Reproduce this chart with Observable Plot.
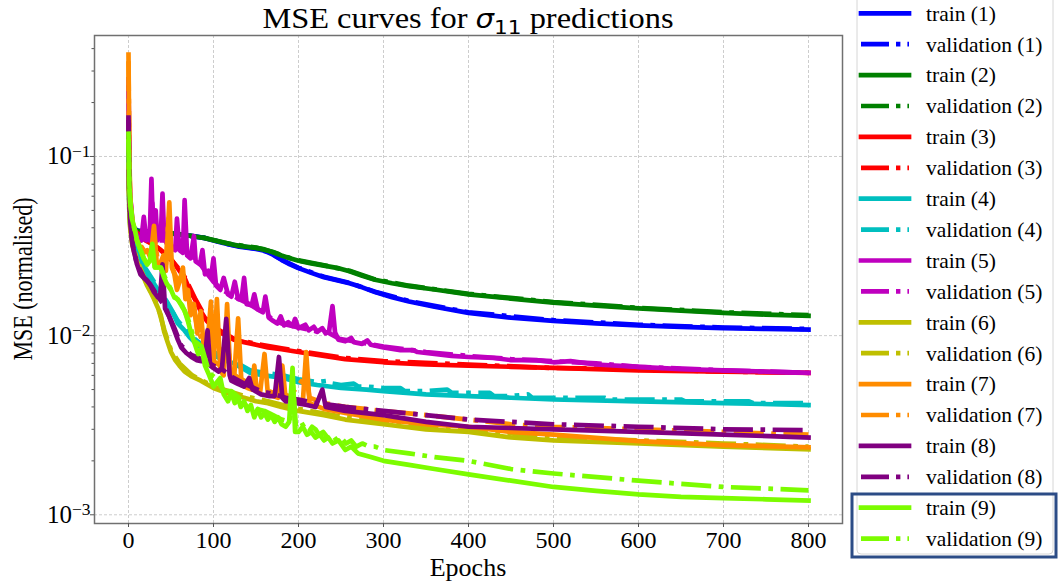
<!DOCTYPE html>
<html>
<head>
<meta charset="utf-8">
<script src="https://cdn.jsdelivr.net/npm/d3@7"></script>
<script src="https://cdn.jsdelivr.net/npm/@observablehq/plot@0.6"></script>
<style>
  html, body { margin: 0; padding: 0; background: #fff; }
  #chart { position: relative; width: 1059px; height: 588px; overflow: hidden; }
</style>
</head>
<body>
<div id="chart"></div>
<script>
// ---- axis ticks ----
const epochTicks = [0, 100, 200, 300, 400, 500, 600, 700, 800];
const mseTicks = [0.001, 0.01, 0.1];
const mseMinorTicks = [0.002, 0.003, 0.004, 0.005, 0.006, 0.007, 0.008, 0.009,
  0.02, 0.03, 0.04, 0.05, 0.06, 0.07, 0.08, 0.09, 0.2, 0.3, 0.4];

// ---- runs ----
const runLabels = ["1", "2", "3", "4", "5", "6", "7", "8", "9"];
const runColors = ["#0000ff", "#008000", "#ff0000", "#00bfbf", "#bf00bf",
  "#bfbf00", "#ff8c00", "#800080", "#7cfc00"];

// ---- MSE per epoch: [epoch, mse] ----
const train1 = [[0,0.16],[1,0.065],[2,0.046],[4,0.041],[8,0.0388],[15,0.038],[30,0.0378],[50,0.0372],[70,0.0362],[90,0.035],[110,0.033],[130,0.0314],[150,0.0305],[160,0.0298],[170,0.0283],[180,0.0265],[190,0.025],[200,0.0238],[215,0.0224],[230,0.0212],[245,0.0204],[260,0.0196],[275,0.0186],[290,0.0175],[310,0.0164],[330,0.0155],[360,0.0145],[400,0.0134],[450,0.0126],[500,0.0121],[550,0.0117],[600,0.0114],[650,0.0112],[700,0.011],[750,0.0109],[800,0.0108]];
const val1 = [[0,0.15],[1,0.063],[2,0.046],[4,0.041],[10,0.0386],[30,0.0379],[60,0.0368],[90,0.0351],[120,0.0322],[150,0.0306],[165,0.0292],[180,0.0266],[200,0.0239],[230,0.0213],[260,0.0197],[290,0.0176],[330,0.0156],[400,0.0135],[500,0.0122],[600,0.0115],[700,0.0111],[800,0.0109]];

const train2 = [[0,0.12],[1,0.062],[2,0.046],[4,0.041],[8,0.0388],[15,0.038],[30,0.0378],[50,0.0372],[70,0.0362],[90,0.035],[110,0.0332],[130,0.0317],[150,0.0309],[160,0.0303],[170,0.0292],[180,0.028],[190,0.027],[200,0.0262],[215,0.0253],[230,0.0246],[245,0.0239],[260,0.0229],[275,0.0216],[290,0.0205],[310,0.0196],[330,0.0189],[360,0.0181],[400,0.017],[450,0.0161],[500,0.0153],[550,0.0147],[600,0.0142],[650,0.0138],[700,0.0134],[750,0.0131],[800,0.0129]];
const val2 = [[0,0.11],[1,0.06],[2,0.046],[4,0.041],[10,0.0387],[30,0.0379],[60,0.0368],[90,0.0351],[120,0.0325],[150,0.031],[170,0.0293],[190,0.0271],[200,0.0263],[230,0.0247],[260,0.023],[290,0.0206],[330,0.019],[400,0.0171],[500,0.0154],[600,0.0143],[700,0.0135],[800,0.013]];

const train3 = [[0,0.1],[1,0.055],[2,0.045],[4,0.04],[8,0.038],[15,0.036],[20,0.034],[25,0.033],[30,0.032],[38,0.03],[45,0.028],[52,0.026],[58,0.0237],[66,0.021],[72,0.018],[78,0.016],[85,0.0137],[92,0.0121],[100,0.0111],[110,0.0103],[124,0.0095],[136,0.0092],[150,0.0089],[164,0.0086],[180,0.0084],[200,0.0081],[230,0.0077],[255,0.0074],[300,0.0071],[350,0.0069],[400,0.0068],[450,0.0067],[500,0.0066],[600,0.0064],[700,0.0063],[800,0.0062]];
const val3 = [[0,0.095],[1,0.054],[2,0.045],[5,0.039],[10,0.037],[20,0.0342],[30,0.0322],[45,0.0282],[58,0.024],[66,0.0213],[78,0.0162],[92,0.0123],[100,0.0112],[124,0.0096],[150,0.009],[180,0.0085],[200,0.0082],[255,0.0075],[300,0.0072],[400,0.0069],[500,0.0066],[600,0.0065],[700,0.0063],[800,0.0062]];

const train4 = [[0,0.1],[1,0.05],[2,0.042],[5,0.036],[10,0.03],[15,0.026],[20,0.023],[25,0.021],[30,0.0195],[38,0.017],[45,0.015],[52,0.0135],[58,0.0117],[65,0.0108],[72,0.0098],[80,0.009],[90,0.0083],[100,0.0078],[112,0.0073],[124,0.007],[136,0.0065],[143,0.0062],[160,0.006],[182,0.0058],[200,0.0055],[222,0.0053],[250,0.0051],[280,0.005],[300,0.0049],[350,0.0047],[400,0.0046],[450,0.0045],[500,0.0044],[600,0.0043],[700,0.0042],[800,0.0041]];
const val4 = [[0,0.098],[1,0.05],[2,0.043],[5,0.037],[10,0.031],[20,0.0237],[30,0.02],[45,0.0155],[58,0.0121],[72,0.0101],[90,0.0086],[100,0.0081],[124,0.0072],[143,0.0064],[160,0.0062],[182,0.006],[200,0.0057],[222,0.0055],[235,0.0056],[240,0.0054],[250,0.0053],[265,0.0054],[270,0.0052],[280,0.0052],[300,0.0051],[320,0.0051],[325,0.0049],[350,0.0049],[375,0.005],[380,0.0048],[400,0.0048],[425,0.0048],[430,0.0046],[450,0.0046],[470,0.0047],[475,0.0045],[500,0.0045],[560,0.0045],[565,0.0044],[600,0.0044],[650,0.0044],[655,0.0043],[700,0.0043],[730,0.0043],[735,0.0042],[800,0.0042]];

const train5 = [[0,0.27],[1,0.08],[2,0.06],[5,0.042],[10,0.036],[15,0.034],[18,0.046],[21,0.034],[25,0.036],[27,0.075],[29,0.037],[32,0.05],[34,0.034],[38,0.036],[40,0.062],[42,0.035],[46,0.032],[48,0.041],[50,0.031],[55,0.03],[57,0.045],[60,0.03],[64,0.029],[66,0.057],[69,0.028],[73,0.027],[77,0.036],[79,0.026],[84,0.025],[87,0.03],[90,0.022],[94,0.023],[97,0.021],[100,0.027],[103,0.019],[108,0.018],[112,0.021],[117,0.017],[121,0.0165],[125,0.02],[129,0.016],[133,0.016],[136,0.021],[139,0.015],[145,0.0148],[148,0.017],[152,0.014],[158,0.0135],[161,0.0165],[165,0.0126],[170,0.0121],[175,0.0117],[179,0.0128],[183,0.0114],[188,0.0119],[193,0.0113],[196,0.0124],[200,0.011],[208,0.0115],[212,0.0107],[218,0.0112],[222,0.0105],[228,0.011],[232,0.0103],[236,0.0106],[240,0.0146],[243,0.0104],[247,0.0095],[255,0.0093],[262,0.0097],[265,0.0092],[275,0.009],[281,0.0094],[285,0.0089],[300,0.0086],[320,0.0083],[335,0.0083],[340,0.0081],[360,0.0079],[380,0.0077],[400,0.0076],[430,0.0075],[450,0.0073],[480,0.0073],[500,0.0071],[520,0.0072],[550,0.0069],[600,0.0067],[650,0.0065],[700,0.0064],[750,0.0063],[800,0.0062]];
const val5 = [[0,0.25],[1,0.075],[2,0.058],[5,0.041],[10,0.036],[15,0.034],[22,0.036],[25,0.034],[28,0.055],[31,0.035],[36,0.034],[44,0.034],[52,0.031],[60,0.031],[70,0.028],[80,0.027],[90,0.023],[100,0.02],[110,0.018],[120,0.017],[130,0.016],[140,0.0152],[150,0.0142],[160,0.0135],[170,0.0122],[180,0.0117],[200,0.0111],[220,0.0106],[235,0.0104],[248,0.0096],[270,0.0092],[300,0.0087],[350,0.0081],[400,0.0077],[450,0.0074],[500,0.0072],[550,0.007],[600,0.0067],[700,0.0064],[800,0.0062]];

const train6 = [[0,0.09],[1,0.05],[2,0.04],[4,0.033],[6,0.03],[10,0.026],[14,0.023],[18,0.021],[22,0.019],[26,0.0175],[30,0.016],[34,0.0145],[38,0.013],[42,0.0105],[46,0.0092],[50,0.0081],[55,0.0073],[60,0.0068],[66,0.0063],[75,0.0059],[85,0.0056],[100,0.0051],[120,0.0047],[136,0.0045],[150,0.0043],[164,0.0042],[180,0.004],[200,0.0038],[230,0.0036],[255,0.0034],[300,0.0032],[350,0.003],[400,0.0029],[450,0.0027],[500,0.0026],[600,0.0025],[700,0.0024],[800,0.00232]];
const val6 = [[0,0.088],[1,0.05],[2,0.041],[5,0.032],[10,0.0265],[18,0.0213],[26,0.0178],[34,0.0148],[42,0.0108],[50,0.0083],[60,0.007],[75,0.006],[100,0.0052],[136,0.0046],[164,0.0043],[200,0.0039],[255,0.0035],[300,0.0033],[400,0.003],[500,0.0027],[600,0.0026],[700,0.0025],[800,0.0024]];

const train7 = [[0,0.37],[1,0.1],[2,0.06],[4,0.045],[7,0.038],[10,0.034],[14,0.031],[18,0.029],[22,0.03],[26,0.027],[30,0.041],[33,0.026],[37,0.025],[41,0.028],[44,0.023],[48,0.0555],[51,0.024],[54,0.022],[57,0.018],[60,0.02],[64,0.024],[67,0.016],[70,0.018],[73,0.013],[77,0.015],[81,0.0103],[85,0.0137],[89,0.0082],[93,0.009],[97,0.0155],[100,0.0066],[104,0.016],[108,0.0064],[112,0.006],[116,0.015],[120,0.0058],[124,0.0056],[129,0.0125],[133,0.0053],[140,0.0051],[145,0.005],[148,0.0068],[151,0.0049],[155,0.0049],[160,0.0079],[164,0.0047],[170,0.0046],[176,0.0045],[181,0.0068],[185,0.0044],[195,0.0043],[205,0.0042],[209,0.0081],[213,0.0042],[230,0.0039],[255,0.0037],[300,0.0034],[350,0.0032],[400,0.0031],[450,0.0029],[500,0.0028],[600,0.00258],[700,0.00245],[800,0.00238]];
const val7 = [[0,0.34],[1,0.09],[2,0.058],[5,0.042],[10,0.034],[18,0.03],[26,0.028],[30,0.036],[34,0.027],[44,0.025],[47,0.045],[50,0.025],[58,0.02],[64,0.022],[68,0.017],[77,0.014],[81,0.011],[89,0.0088],[97,0.012],[100,0.0072],[108,0.0068],[116,0.011],[120,0.0062],[133,0.0057],[150,0.0052],[170,0.0048],[190,0.0046],[209,0.006],[213,0.0045],[230,0.0042],[255,0.004],[300,0.0038],[350,0.0036],[400,0.0034],[450,0.0032],[500,0.0031],[600,0.003],[700,0.0029],[800,0.0028]];

const train8 = [[0,0.165],[1,0.06],[2,0.045],[4,0.034],[6,0.03],[10,0.025],[14,0.022],[18,0.021],[22,0.0203],[26,0.019],[30,0.0175],[34,0.0165],[37,0.016],[40,0.025],[43,0.0142],[48,0.0127],[54,0.0107],[58,0.0095],[62,0.0086],[68,0.008],[74,0.0076],[80,0.0073],[86,0.0072],[90,0.0076],[93,0.0107],[96,0.0068],[100,0.0066],[106,0.0063],[110,0.0066],[115,0.0124],[119,0.006],[121,0.0056],[128,0.0054],[136,0.0052],[142,0.0058],[146,0.005],[156,0.0047],[165,0.0046],[172,0.0046],[177,0.0076],[181,0.0045],[185,0.0043],[192,0.0043],[198,0.0042],[210,0.0041],[220,0.004],[228,0.005],[232,0.004],[255,0.0038],[300,0.0036],[350,0.0033],[400,0.0031],[450,0.00305],[500,0.003],[600,0.0029],[700,0.0028],[800,0.0027]];
const val8 = [[0,0.16],[1,0.06],[2,0.045],[5,0.032],[10,0.025],[18,0.0212],[26,0.0192],[34,0.0167],[43,0.0145],[54,0.011],[62,0.0088],[74,0.0078],[86,0.0074],[100,0.0068],[110,0.0065],[121,0.0059],[136,0.0054],[156,0.0049],[172,0.0047],[185,0.0045],[200,0.0044],[220,0.0042],[240,0.0041],[255,0.004],[300,0.0038],[350,0.0036],[400,0.0034],[450,0.0033],[500,0.0032],[600,0.0031],[700,0.003],[800,0.00297]];

const train9 = [[0,0.134],[1,0.07],[2,0.055],[4,0.045],[7,0.04],[10,0.034],[14,0.03],[18,0.027],[22,0.025],[25,0.026],[28,0.0325],[31,0.024],[35,0.024],[38,0.024],[42,0.021],[45,0.0195],[50,0.018],[54,0.0163],[58,0.016],[63,0.0145],[66,0.0138],[70,0.012],[74,0.0102],[78,0.009],[82,0.0079],[86,0.0085],[90,0.0068],[95,0.006],[100,0.0052],[104,0.0055],[108,0.0058],[112,0.0047],[117,0.0043],[121,0.0048],[125,0.0042],[129,0.0045],[132,0.004],[136,0.0043],[140,0.0038],[144,0.0041],[148,0.0035],[152,0.0039],[156,0.0035],[160,0.0037],[164,0.0034],[168,0.0036],[172,0.0033],[176,0.0035],[180,0.0032],[185,0.0031],[189,0.0033],[193,0.0066],[196,0.0029],[200,0.0029],[205,0.0031],[210,0.0028],[215,0.0029],[220,0.0027],[225,0.0028],[230,0.0026],[235,0.0027],[240,0.0025],[247,0.0026],[255,0.0023],[262,0.0024],[270,0.0022],[285,0.0021],[300,0.002],[330,0.0019],[360,0.0018],[400,0.00168],[450,0.00155],[500,0.00143],[550,0.00136],[600,0.0013],[650,0.00126],[700,0.00124],[750,0.00122],[800,0.0012]];
const val9 = [[0,0.125],[1,0.07],[2,0.055],[5,0.043],[10,0.034],[18,0.027],[22,0.025],[28,0.03],[31,0.024],[38,0.024],[45,0.02],[54,0.0167],[63,0.0148],[70,0.0124],[78,0.0093],[86,0.0087],[95,0.0062],[104,0.0057],[112,0.0049],[121,0.0049],[130,0.0045],[140,0.004],[150,0.0039],[160,0.0038],[170,0.0036],[180,0.0034],[190,0.0033],[193,0.0058],[197,0.0031],[203,0.0033],[208,0.003],[212,0.0029],[216,0.0031],[220,0.003],[224,0.0028],[229,0.0029],[234,0.0027],[240,0.0028],[245,0.0026],[250,0.0027],[256,0.0025],[262,0.0026],[268,0.0024],[275,0.0025],[283,0.0024],[290,0.0024],[300,0.0023],[330,0.0022],[360,0.0021],[400,0.002],[450,0.0018],[500,0.0017],[600,0.00155],[700,0.00143],[800,0.00137]];

const trainRuns = [train1, train2, train3, train4, train5, train6, train7, train8, train9];
const valRuns = [val1, val2, val3, val4, val5, val6, val7, val8, val9];

// ---- tidy rows ----
const rows = [];
runLabels.forEach((run, i) => {
  for (const [kind, pts] of [["train", trainRuns[i]], ["validation", valRuns[i]]]) {
    for (const [epoch, mse] of pts) rows.push({run, kind, epoch, mse, series: `${kind} (${run})`});
  }
});

const serif = "'Liberation Serif', 'Times New Roman', Times, serif";
const dashDot = "30,7.5,4.7,7.5";
const lineWidth = 4.7;

// one line per series, drawn train then validation for each run
const seriesList = runLabels.flatMap((run, i) => [
  {name: `train (${run})`, color: runColors[i], dashed: false},
  {name: `validation (${run})`, color: runColors[i], dashed: true}
]);

const lineMarks = seriesList.map(s => Plot.line(rows.filter(d => d.series === s.name), {
  x: "epoch", y: "mse", stroke: s.color, strokeWidth: lineWidth,
  strokeDasharray: s.dashed ? dashDot : null,
  strokeLinecap: s.dashed ? "butt" : "square",
  strokeLinejoin: "round", clip: true
}));

const chart = Plot.plot({
  width: 1059, height: 588,
  marginLeft: 94, marginRight: 217, marginTop: 35, marginBottom: 65,
  style: {fontFamily: serif, fontSize: "24px", color: "#000", background: "transparent", overflow: "visible"},
  x: {domain: [-40, 840]},
  y: {type: "log", domain: [8.94e-4, 0.4735]},
  marks: [
    Plot.gridX({ticks: epochTicks, stroke: "#cdcdcd", strokeOpacity: 1, strokeDasharray: "3,2"}),
    Plot.gridY({ticks: mseTicks, stroke: "#cdcdcd", strokeOpacity: 1, strokeDasharray: "3,2"}),
    ...lineMarks,
    Plot.frame({stroke: "#707070", strokeWidth: 1.5}),
    Plot.axisX({ticks: epochTicks, tickSize: 4, tickPadding: 3, label: null, stroke: "#555",
      fontFamily: serif, fontSize: 24}),
    Plot.axisY({ticks: mseTicks, tickSize: 4, tickPadding: 0, label: null, stroke: "#555",
      fontFamily: serif, fontSize: 25,
      tickFormat: d => `10^${Math.round(Math.log10(d))}`}),
    Plot.axisY({ticks: mseMinorTicks, tickSize: 2.5, tickFormat: () => "", label: null, stroke: "#555"})
  ]
});

document.getElementById("chart").appendChild(chart);

const ns = "http://www.w3.org/2000/svg";
// superscript exponents on the log-axis labels
chart.querySelectorAll('[aria-label="y-axis tick label"] text').forEach(t => {
  const s = t.textContent;
  if (!s.includes("^")) return;
  const [base, exp] = s.split("^");
  t.textContent = base;
  const sup = document.createElementNS(ns, "tspan");
  sup.setAttribute("dy", "-0.45em");
  sup.setAttribute("font-size", "0.7em");
  sup.textContent = "\u2212" + Math.abs(+exp);
  t.appendChild(sup);
});

const svg = d3.select(chart);

// title
const title = svg.append("g").attr("transform", "translate(468,27.5) scale(1.08,1)")
  .append("text")
  .attr("x", 0).attr("y", 0).attr("text-anchor", "middle")
  .attr("font-family", serif).attr("font-size", 30).attr("fill", "#000");
title.append("tspan").text("MSE curves for ");
title.append("tspan").attr("font-family", "'DejaVu Sans', sans-serif").attr("font-style", "italic").attr("font-size", 27).text("\u03c3");
title.append("tspan").attr("font-family", "'DejaVu Sans', sans-serif").attr("font-size", 20).attr("dy", 6).text("11");
title.append("tspan").attr("dy", -6).text(" predictions");

// axis titles
svg.append("text").attr("x", 468).attr("y", 576).attr("text-anchor", "middle")
  .attr("font-family", serif).attr("font-size", 26).attr("fill", "#000").text("Epochs");
svg.append("g").attr("transform", "translate(32,279) scale(1.2,1) rotate(-90)")
  .append("text").attr("text-anchor", "middle")
  .attr("font-family", serif).attr("font-size", 22).attr("fill", "#000").text("MSE (normalised)");

// legend
const legend = svg.append("g");
legend.append("rect").attr("x", 857).attr("y", -8).attr("width", 196).attr("height", 562)
  .attr("rx", 4).attr("fill", "#fff").attr("fill-opacity", 0.8).attr("stroke", "#d6d6d6").attr("stroke-width", 1);
seriesList.forEach((s, i) => {
  const y = 13.3 + 30.9 * i;
  legend.append("line").attr("x1", 861).attr("x2", 909).attr("y1", y).attr("y2", y)
    .attr("stroke", s.color).attr("stroke-width", lineWidth)
    .attr("stroke-dasharray", s.dashed ? "28,7,4.4,7" : null)
    .attr("stroke-linecap", s.dashed ? "butt" : "square");
  legend.append("text").attr("x", 926).attr("y", y).attr("dy", "0.34em")
    .attr("text-anchor", "start")
    .attr("font-family", serif).attr("font-size", 21.5).attr("fill", "#000").text(s.name);
});
// highlighted last run
legend.append("rect").attr("x", 852).attr("y", 494).attr("width", 204).attr("height", 63)
  .attr("fill", "none").attr("stroke", "#2c4c86").attr("stroke-width", 3);
</script>
</body>
</html>
